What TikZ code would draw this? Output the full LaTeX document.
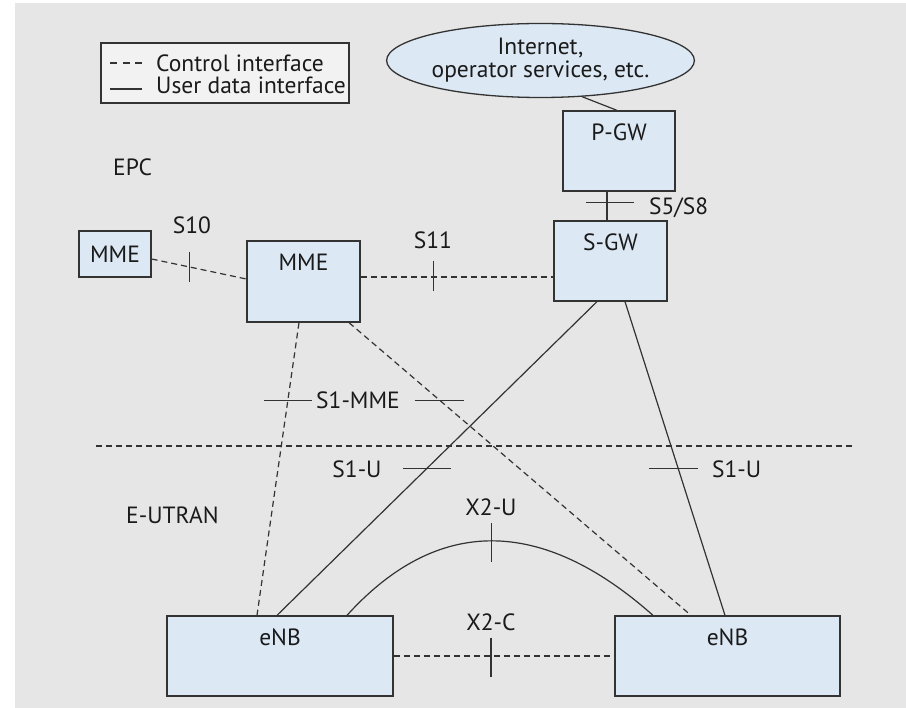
\documentclass[tikz,border=0pt]{standalone}
\usepackage{fontspec}
\setmainfont{PT Sans}
\usetikzlibrary{shapes.geometric,calc}
\definecolor{bg}{HTML}{E6E6E6}
\definecolor{boxfill}{HTML}{DCE8F4}
\definecolor{legfill}{HTML}{F2F2F2}
\definecolor{ln}{HTML}{333333}
\definecolor{tx}{HTML}{1A1A1A}
\begin{document}
\begin{tikzpicture}[x=1pt,y=-1pt,
  every node/.style={text=tx, font=\fontsize{23.5}{23}\selectfont},
  nebox/.style={draw=ln, line width=1.3pt, fill=boxfill, inner sep=0pt, rectangle},
  ctrl/.style={draw=ln, line width=1.2pt, dash pattern=on 6pt off 4pt},
  udata/.style={draw=ln, line width=1.2pt},
  tick/.style={draw=ln, line width=1.1pt},
  lbl/.style={inner sep=0pt, text depth=0pt},
  ttl/.style={lbl, anchor=center, yshift=-22pt}
]
\useasboundingbox (0,0) rectangle (906,708);
\fill[bg] (15,3) rectangle (906,708);

% legend
\node[draw=ln, line width=1.1pt, fill=legfill, minimum width=248pt, minimum height=60pt, inner sep=0pt] (legend) at (225,73) {};
\draw[ln, line width=1.2pt, dash pattern=on 7pt off 5.5pt] (110,63) -- (142,63);
\draw[udata] (110,89) -- (142,89);
\node[lbl, anchor=west] (lc) at (156,63) {Control interface};
\node[lbl, anchor=west] (lu) at (156,85) {User data interface};

% region labels
\node[lbl, anchor=west] (epc) at (113,167) {EPC};
\node[lbl, anchor=west] (eutran) at (126,515) {E-UTRAN};

% nodes
\node[draw=ln, line width=1.3pt, fill=boxfill, ellipse, minimum width=305pt, minimum height=74pt, inner sep=0pt, align=center] (inet) at (540.5,60.5) {Internet,\\operator services, etc.};
\node[nebox, minimum width=112pt, minimum height=80pt, label={[ttl]north:P-GW}] (pgw) at (619,151) {};
\node[nebox, minimum width=113pt, minimum height=80pt, label={[ttl]north:S-GW}] (sgw) at (610.5,261) {};
\node[nebox, minimum width=72pt, minimum height=46pt] (mme1) at (115,254) {MME};
\node[nebox, minimum width=113pt, minimum height=81pt, label={[ttl]north:MME}] (mme) at (303.5,281.5) {};
\node[nebox, minimum width=226pt, minimum height=80pt, label={[ttl]north:eNB}] (enb1) at (280,656) {};
\node[nebox, minimum width=225pt, minimum height=80pt, label={[ttl]north:eNB}] (enb2) at (727.5,656) {};

% divider
\draw[ctrl] (96,446) -- (855,446);

% Internet - P-GW
\draw[udata] (inet.-41) -- ([xshift=-2pt]pgw.north);

% S5/S8
\coordinate (p58) at ([xshift=-12pt]pgw.south);
\draw[udata] (p58) -- coordinate[pos=0.37] (t58) (p58 |- sgw.north);
\draw[tick] (t58) ++(-21,0) -- ++(48,0);
\node[lbl, anchor=west] (l58) at (649,206) {S5/S8};

% S10
\draw[ctrl] ([yshift=-5pt]mme1.east) -- coordinate[pos=0.40] (t10) ([yshift=2.5pt]mme.west);
\draw[tick] (t10) ++(0,-15) -- ++(0,30);
\node[lbl] (l10) at (192,225) {S10};

% S11
\coordinate (p11) at ([yshift=4.5pt]mme.east);
\draw[ctrl] (p11) -- coordinate[pos=0.376] (t11) (p11 -| sgw.west);
\draw[tick] (t11) ++(0,-16) -- ++(0,30);
\node[lbl] (l11) at (433,240) {S11};

% S1-MME
\draw[ctrl] ([xshift=-4.5pt]mme.south) -- coordinate[pos=0.2653] (tm1) ([xshift=-23pt]enb1.north);
\draw[ctrl] ([xshift=45.5pt]mme.south) -- coordinate[pos=0.2653] (tm2) ([xshift=-36.5pt]enb2.north);
\draw[tick] (tm1) ++(-24,0) -- ++(48,0);
\draw[tick] (tm2) ++(-25,0) -- ++(49,0);
\node[lbl] (l1mme) at (358,400) {S1-MME};

% S1-U
\draw[udata] ([xshift=-13.5pt]sgw.south) -- coordinate[pos=0.5333] (tu1) ([xshift=-3pt]enb1.north);
\draw[udata] ([xshift=14.5pt]sgw.south) -- coordinate[pos=0.5333] (tu2) ([xshift=-2.5pt]enb2.north);
\draw[tick] (tu1) ++(-23,0) -- ++(48,0);
\draw[tick] (tu2) ++(-29,0) -- ++(49,0);
\node[lbl] (l1u1) at (357,469) {S1-U};
\node[lbl, anchor=west] (l1u2) at (712,469) {S1-U};

% X2-U
\draw[udata] ([xshift=67pt]enb1.north) .. controls (437,516) and (541,516) .. coordinate[pos=0.5] (tx2u) ([xshift=-74.5pt]enb2.north);
\draw[tick] (tx2u) ++(0,-18) -- ++(0,39);
\node[lbl] (lx2u) at (491,507) {X2-U};

% X2-C
\draw[ctrl] (enb1.east) -- coordinate[pos=0.441] (tx2c) (enb2.west);
\draw[tick] (tx2c) ++(0,-18) -- ++(0,39);
\node[lbl] (lx2c) at (491,622) {X2-C};
\end{tikzpicture}
\end{document}
